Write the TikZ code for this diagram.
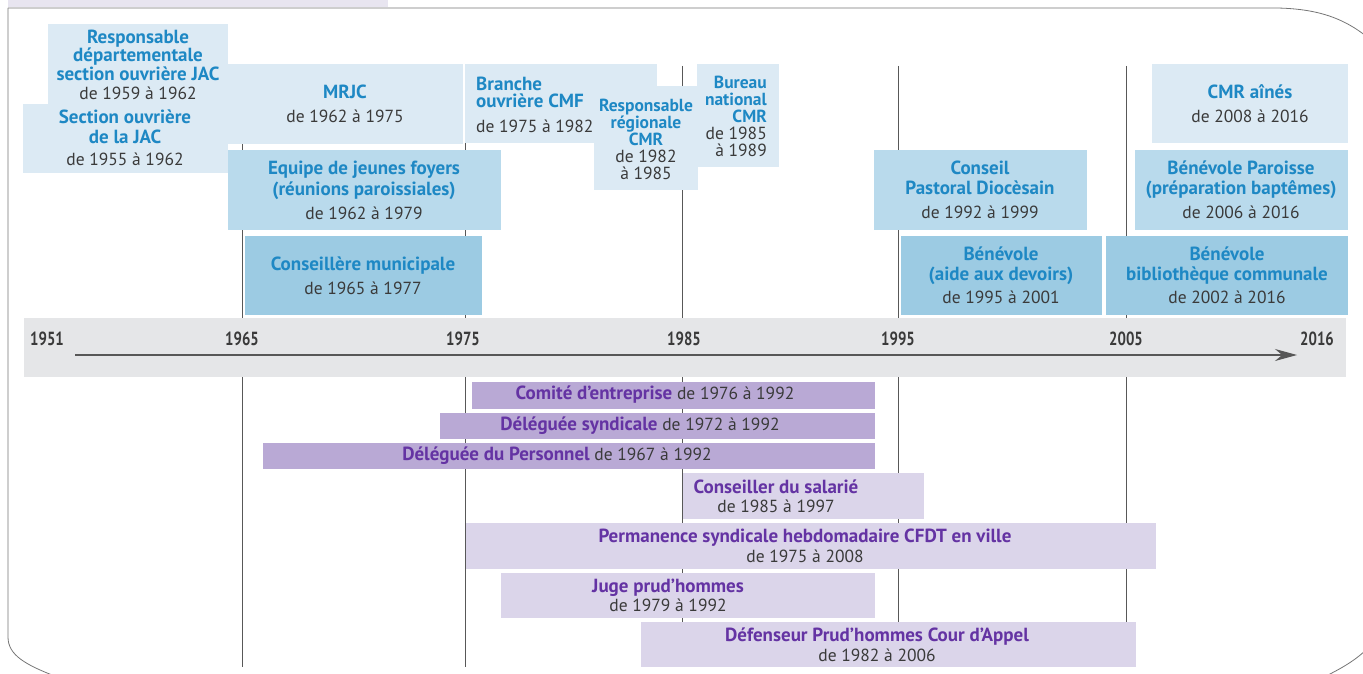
\documentclass[tikz,border=0pt]{standalone}
\usepackage{fontspec}
\setmainfont{PT Sans}
\usepackage{graphicx}
\usepackage{xcolor}
\usetikzlibrary{arrows.meta}
\definecolor{bleuA}{HTML}{DCEAF4}
\definecolor{bleuB}{HTML}{B9DAEC}
\definecolor{bleuC}{HTML}{9CCBE3}
\definecolor{bleuT}{HTML}{1E88C4}
\definecolor{violA}{HTML}{B9A9D5}
\definecolor{violB}{HTML}{DBD5EA}
\definecolor{violT}{HTML}{6433A3}
\definecolor{gris}{HTML}{3A3A3A}
\definecolor{bande}{HTML}{E5E6E8}
\definecolor{titre}{HTML}{E8E5F0}
\newcommand{\tb}[1]{{\fontsize{19}{17}\selectfont\bfseries\color{bleuT}#1}}
\newcommand{\tbp}[1]{{\fontsize{17.5}{17}\selectfont\bfseries\color{bleuT}#1}}
\newcommand{\tv}[1]{{\fontsize{19}{17}\selectfont\bfseries\color{violT}#1}}

\begin{document}
\begin{tikzpicture}[x=1pt,y=-1pt,
  boite/.style={draw=white,line width=1.2pt},
  txt/.style={align=center,inner sep=0pt,text=gris,font=\fontsize{17.5}{17}\selectfont},
  annee/.style={inner sep=0pt,text=gris,font=\bfseries\fontsize{19}{18}\selectfont},
  trait/.style={draw=gris!85,line width=0.9pt}]
\useasboundingbox (0,0) rectangle (1363,674);
\clip (0,0) rectangle (1363,674);
% cadre
\fill[titre] (8,0) rectangle (388,7);
\draw[gris!70,line width=0.8pt] (8,8) -- (1277,8) .. controls (1330,9) and (1355,25) .. (1380,48);
\draw[gris!70,line width=0.8pt] (8,8) -- (8,637) .. controls (8,655) and (25,665) .. (60,678);
\draw[gris!70,line width=0.8pt] (1326,676) .. controls (1342,668) and (1356,660) .. (1368,648);
% reperes
\foreach \px in {242,465,682,898,1126}
  \draw[trait] (\px,66) -- (\px,667);
% axe
\fill[bande] (24,318) rectangle (1346,377);
\coordinate (fd) at (75,355);
\coordinate (ff) at (1297,355);
\draw[gris!85,line width=1.4pt,-{Stealth[length=22pt,width=12pt]}] (fd) -- (ff);
\foreach \yr/\px in {1951/47,1965/242,1975/463,1985/684,1995/898,2005/1126,2016/1317}
  \node[annee] (a\yr) at (\px,339) {\scalebox{0.78}[1]{\yr}};

% engagements (haut)
\fill[boite,bleuA] (49,25) rectangle (227,103);
\node[txt] (jacresp) at (138,64.5) {\tb{Responsable}\\\tb{départementale}\\\tb{section ouvrière JAC}\\[2pt]de 1959 à 1962};
\fill[boite,bleuA] (24,105) rectangle (227,172);
\node[txt] (jac) at (125,138) {\tb{Section ouvrière}\\[3pt]\tb{de la JAC}\\[5pt]de 1955 à 1962};
\fill[boite,bleuA] (229,65) rectangle (462,143);
\node[txt] (mrjc) at (345,104) {\tb{MRJC}\\[7pt]de 1962 à 1975};
\fill[boite,bleuA] (466,65) rectangle (656,142);
\node[txt,align=left,anchor=west] (cmf) at (476,104.5) {\tb{Branche}\\\tb{ouvrière CMF}\\[8pt]de 1975 à 1982};
\fill[boite,bleuA] (595,87) rectangle (697,189);
\node[txt] (cmrreg) at (646,139.5) {\tbp{Responsable}\\\tbp{régionale}\\\tbp{CMR}\\de 1982\\à 1985};
\fill[boite,bleuA] (698,65) rectangle (778,166);
\node[txt,align=right,anchor=east] (cmrnat) at (767,116.5) {\tbp{Bureau}\\\tbp{national}\\\tbp{CMR}\\de 1985\\à 1989};
\fill[boite,bleuB] (229,151) rectangle (500,229);
\node[txt] (foyers) at (364,190.5) {\tb{Equipe de jeunes foyers}\\[2pt]\tb{(réunions paroissiales)}\\[7pt]de 1962 à 1979};
\fill[boite,bleuC] (246,237) rectangle (481,314);
\node[txt] (muni) at (363,276) {\tb{Conseillère municipale}\\[7pt]de 1965 à 1977};
\fill[boite,bleuA] (1153,65) rectangle (1347,142);
\node[txt] (aines) at (1250,104) {\tb{CMR aînés}\\[7pt]de 2008 à 2016};
\fill[boite,bleuB] (875,151) rectangle (1086,229);
\node[txt] (pastoral) at (980,190) {\tb{Conseil}\\[3pt]\tb{Pastoral Diocèsain}\\[7pt]de 1992 à 1999};
\fill[boite,bleuB] (1136,151) rectangle (1347,229);
\node[txt] (paroisse) at (1241,190) {\tb{Bénévole Paroisse}\\[3pt]\tb{(préparation baptêmes)}\\[7pt]de 2006 à 2016};
\fill[boite,bleuC] (902,237) rectangle (1101,314);
\node[txt] (devoirs) at (1001,275.5) {\tb{Bénévole}\\[3pt]\tb{(aide aux devoirs)}\\[6pt]de 1995 à 2001};
\fill[boite,bleuC] (1107,237) rectangle (1347,314);
\node[txt] (biblio) at (1227,275.5) {\tb{Bénévole}\\[3pt]\tb{bibliothèque communale}\\[6pt]de 2002 à 2016};

% engagements (bas)
\fill[boite,violA] (473,383) rectangle (874,408);
\node[txt] (ce) at (655,395) {\tv{Comité d’entreprise} de 1976 à 1992};
\fill[boite,violA] (441,414) rectangle (874,438);
\node[txt] (ds) at (640,426) {\tv{Déléguée syndicale} de 1972 à 1992};
\fill[boite,violA] (264,444) rectangle (874,468);
\node[txt] (dp) at (557,456) {\tv{Déléguée du Personnel} de 1967 à 1992};
\fill[boite,violB] (684,474) rectangle (923,518);
\node[txt] (salarie) at (776,496.5) {\tv{Conseiller du salarié}\\[2pt]de 1985 à 1997};
\fill[boite,violB] (467,524) rectangle (1155,568);
\node[txt] (cfdt) at (805,546) {\tv{Permanence syndicale hebdomadaire CFDT en ville}\\[3pt]de 1975 à 2008};
\fill[boite,violB] (502,574) rectangle (874,617);
\node[txt] (juge) at (668,595.5) {\tv{Juge prud’hommes}\\[2pt]de 1979 à 1992};
\fill[boite,violB] (642,623) rectangle (1135,666);
\node[txt] (appel) at (877,644.5) {\tv{Défenseur Prud’hommes Cour d’Appel}\\[3pt]de 1982 à 2006};
\end{tikzpicture}
\end{document}
